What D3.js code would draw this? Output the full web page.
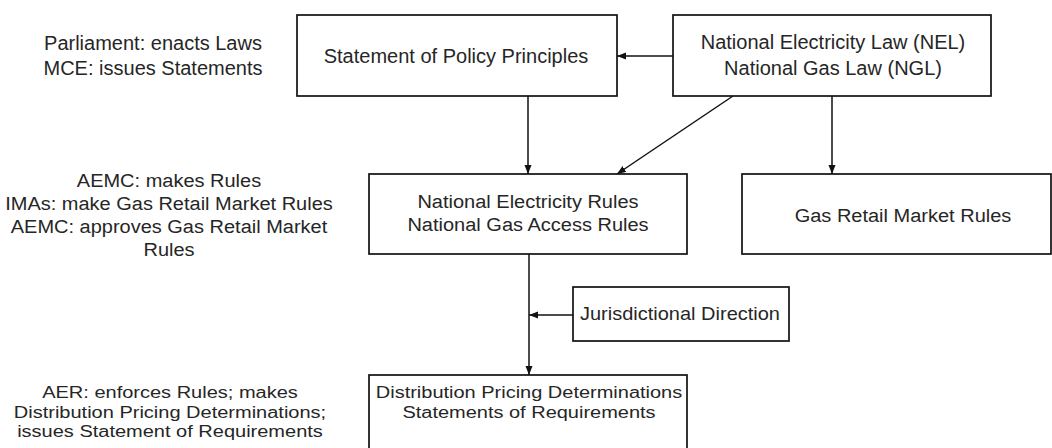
<!DOCTYPE html>
<html>
<head>
<meta charset="utf-8">
<script src="https://cdn.jsdelivr.net/npm/d3@7"></script>
<style>
  html, body { margin: 0; padding: 0; background: #fff; }
  svg text { font-family: "Liberation Sans", Arial, sans-serif; font-size: 20px; fill: #262626; }
</style>
</head>
<body>
<svg id="chart" width="1052" height="448"></svg>
<script>
// diagram content
const nodes = [
    { id: "spp", lines: ["Statement of Policy Principles"] },
    { id: "law", lines: ["National Electricity Law (NEL)", "National Gas Law (NGL)"] },
    { id: "rules", lines: ["National Electricity Rules", "National Gas Access Rules"] },
    { id: "gas", lines: ["Gas Retail Market Rules"] },
    { id: "jur", lines: ["Jurisdictional Direction"] },
    { id: "dist", lines: ["Distribution Pricing Determinations", "Statements of Requirements"] }
];
const edges = [
    { from: "law", to: "spp" },
    { from: "spp", to: "rules" },
    { from: "law", to: "rules" },
    { from: "law", to: "gas" },
    { from: "rules", to: "dist" },
    { from: "jur", to: "rules-dist" }
];
const roles = [
    { id: "top", lines: ["Parliament: enacts Laws", "MCE: issues Statements"] },
    { id: "mid", lines: ["AEMC: makes Rules", "IMAs: make Gas Retail Market Rules", "AEMC: approves Gas Retail Market", "Rules"] },
    { id: "bot", lines: ["AER: enforces Rules; makes", "Distribution Pricing Determinations;", "issues Statement of Requirements"] }
];

// layout (pixels); sy squashes glyphs vertically where the source is compressed
const boxes = {
    spp:   { x0: 297, x1: 617, y0: 15,  y1: 96,  tx: 456, ty: 56,  lh: 26, sy: 1 },
    law:   { x0: 673, x1: 991, y0: 15,  y1: 96,  tx: 833, ty: 55,  lh: 26, sy: 1 },
    rules: { x0: 369, x1: 687, y0: 174, y1: 254, tx: 528, ty: 213, lh: 23, sy: 0.95 },
    gas:   { x0: 742, x1: 1051, y0: 174, y1: 254, tx: 903, ty: 215, lh: 23, sy: 0.95 },
    jur:   { x0: 573, x1: 789, y0: 287, y1: 341, tx: 680, ty: 314, lh: 23, sy: 0.9 },
    dist:  { x0: 369, x1: 687, y0: 375, y1: 470, tx: 529, ty: 402, lh: 20, sy: 0.82 }
};
const edgePts = {
    "law>spp":        [[673, 56], [617, 56]],
    "spp>rules":      [[528, 96], [528, 174]],
    "law>rules":      [[733, 96], [617, 174]],
    "law>gas":        [[832, 96], [832, 174]],
    "rules>dist":     [[529, 254], [529, 375]],
    "jur>rules-dist": [[573, 315], [529, 315]]
};
const rolePos = {
    top: { x: 153, y: 43,  lh: 25, sy: 1 },
    mid: { x: 169, y: 181, lh: 23, sy: 0.93 },
    bot: { x: 170, y: 393, lh: 19.5, sy: 0.8 }
};

const svg = d3.select("#chart");

svg.append("defs").append("marker")
    .attr("id", "arrow")
    .attr("viewBox", "0 -4 9 8")
    .attr("refX", 9)
    .attr("refY", 0)
    .attr("markerUnits", "userSpaceOnUse")
    .attr("markerWidth", 9)
    .attr("markerHeight", 8)
    .attr("orient", "auto")
    .append("path")
    .attr("d", "M0,-3.5L9,0L0,3.5Z")
    .attr("fill", "#111");

const line = d3.line();

svg.selectAll(".edge")
    .data(edges)
    .join("path")
    .attr("class", "edge")
    .attr("d", d => line(edgePts[`${d.from}>${d.to}`]))
    .attr("fill", "none")
    .attr("stroke", "#111")
    .attr("stroke-width", 1.5)
    .attr("marker-end", "url(#arrow)");

const nodeG = svg.selectAll(".node")
    .data(nodes)
    .join("g")
    .attr("class", "node");

nodeG.append("rect")
    .attr("x", d => boxes[d.id].x0)
    .attr("y", d => boxes[d.id].y0)
    .attr("width", d => boxes[d.id].x1 - boxes[d.id].x0)
    .attr("height", d => boxes[d.id].y1 - boxes[d.id].y0)
    .attr("fill", "#fff")
    .attr("stroke", "#111")
    .attr("stroke-width", 1.7);

nodeG.append("text")
    .attr("text-anchor", "middle")
    .attr("transform", d => `scale(1, ${boxes[d.id].sy})`)
    .selectAll("tspan")
    .data(d => d.lines.map((t, i) => ({ t, i, n: d.lines.length, b: boxes[d.id] })))
    .join("tspan")
    .attr("x", d => d.b.tx)
    .attr("y", d => (d.b.ty + (d.i - (d.n - 1) / 2) * d.b.lh) / d.b.sy)
    .attr("dominant-baseline", "central")
    .text(d => d.t);

svg.selectAll(".role")
    .data(roles)
    .join("text")
    .attr("class", "role")
    .attr("text-anchor", "middle")
    .attr("transform", d => `scale(1, ${rolePos[d.id].sy})`)
    .selectAll("tspan")
    .data(d => d.lines.map((t, i) => ({ t, i, p: rolePos[d.id] })))
    .join("tspan")
    .attr("x", d => d.p.x)
    .attr("y", d => (d.p.y + d.i * d.p.lh) / d.p.sy)
    .attr("dominant-baseline", "central")
    .text(d => d.t);
</script>
</body>
</html>
